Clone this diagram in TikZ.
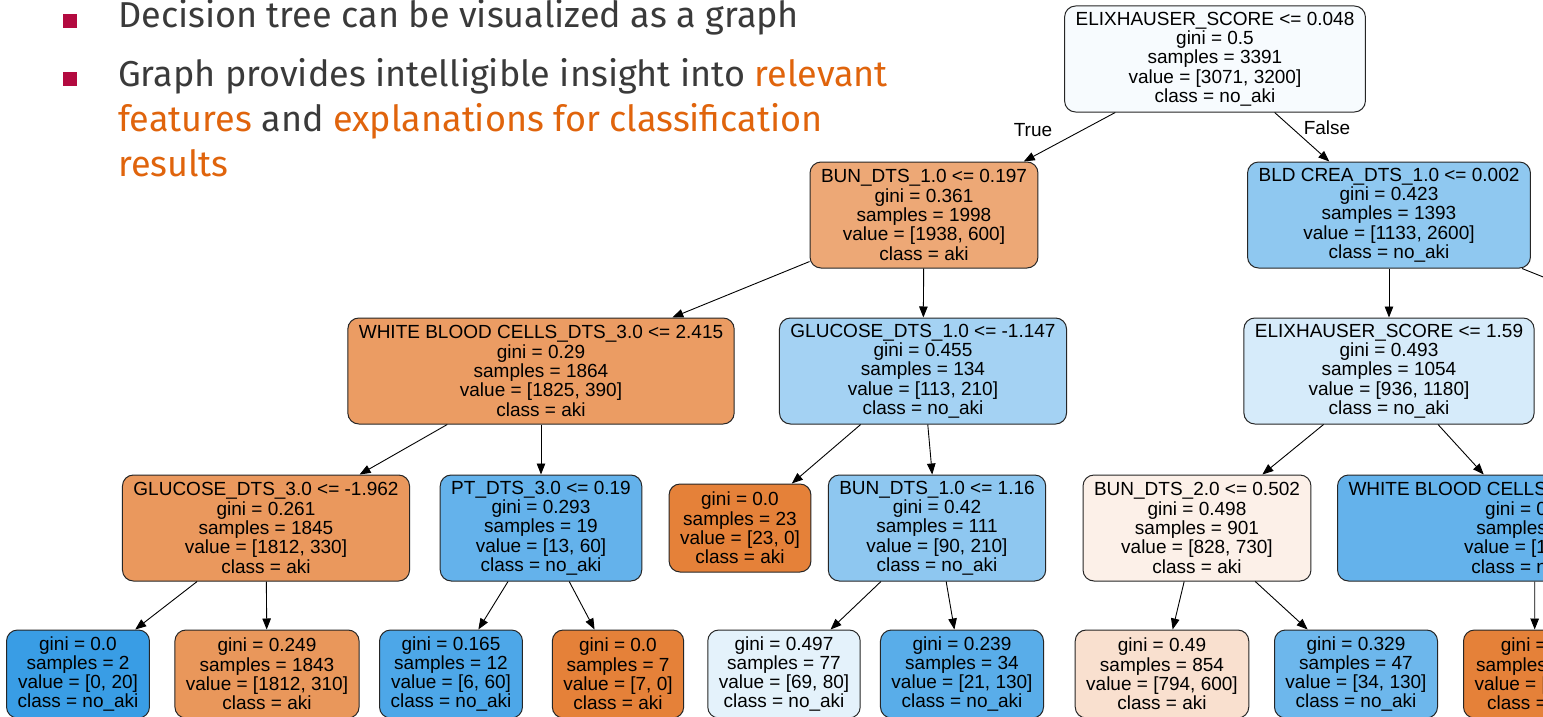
\documentclass[tikz,border=0pt]{standalone}
\usepackage{fontspec}
\usepackage{tikz}
\usetikzlibrary{arrows.meta,calc}
\newfontfamily\treefont{Liberation Sans}
\newfontfamily\slidefont{Fira Sans}
\definecolor{SlideText}{HTML}{3A3A3A}
\definecolor{Accent}{HTML}{E0640C}
\definecolor{BulletRed}{HTML}{B30A40}
% node fills (aki = orange, no_aki = blue)
\definecolor{cRoot}{HTML}{F7FBFE}
\definecolor{cBunA}{HTML}{EDA876}
\definecolor{cBld}{HTML}{8FC8F0}
\definecolor{cWbcA}{HTML}{EB9C63}
\definecolor{cGluA}{HTML}{A4D2F3}
\definecolor{cElix}{HTML}{D6EBFA}
\definecolor{cGluB}{HTML}{EA985D}
\definecolor{cPt}{HTML}{64B2EB}
\definecolor{cAki}{HTML}{E58139}
\definecolor{cNoAki}{HTML}{399DE5}
\definecolor{cBunB}{HTML}{8EC7F0}
\definecolor{cBunC}{HTML}{FCF0E8}
\definecolor{cLfB}{HTML}{E9975B}
\definecolor{cLfC}{HTML}{4DA7E8}
\definecolor{cLfE}{HTML}{E4F2FB}
\definecolor{cLfF}{HTML}{59ADE9}
\definecolor{cLfG}{HTML}{F9E0CF}
\definecolor{cLfH}{HTML}{6DB7EC}

\begin{document}
\begin{tikzpicture}[
    x=1pt,y=-1pt,
    tnode/.style={draw=black!85,line width=1pt,rounded corners=11pt,align=center,
                  font=\treefont\fontsize{19}{19.3}\selectfont,
                  inner xsep=11pt,inner ysep=0pt,minimum height=106pt},
    leaf/.style={tnode,minimum height=88pt},
    edge/.style={-{Triangle[length=11pt,width=8.5pt]},line width=0.9pt,black},
    lbl/.style={font=\treefont\fontsize{19}{19.3}\selectfont,inner sep=0pt},
    slide/.style={font=\slidefont\fontsize{36}{44}\selectfont,text=SlideText,
                  inner sep=0pt,anchor=base west},
    bul/.style={fill=BulletRed,minimum size=14pt,inner sep=0pt}
  ]
  \useasboundingbox (0,0) rectangle (1543,717);
  \fill[white] (0,0) rectangle (1543,717);
  \clip (0,0) rectangle (1543,717);

  % slide text
  \node[bul] (bA) at (70,21) {};
  \node[bul] (bB) at (70,79) {};
  \node[slide] (lineA) at (118,28) {Decision tree can be visualized as a graph};
  \node[slide] (lineB) at (118,86) {Graph provides intelligible insight into \textcolor{Accent}{relevant}};
  \node[slide] (lineC) at (118,131) {\textcolor{Accent}{features} and \textcolor{Accent}{explanations for classification}};
  \node[slide] (lineD) at (118,176) {\textcolor{Accent}{results}};

  % tree
  \node[tnode,fill=cRoot] (root) at (1215,59) {ELIXHAUSER\_SCORE <= 0.048\\gini = 0.5\\samples = 3391\\value = [3071, 3200]\\class = no\_aki};
  \node[tnode,fill=cBunA] (bunA) at (924,215) {BUN\_DTS\_1.0 <= 0.197\\gini = 0.361\\samples = 1998\\value = [1938, 600]\\class = aki};
  \node[tnode,fill=cBld] (bld) at (1389,215) {BLD CREA\_DTS\_1.0 <= 0.002\\gini = 0.423\\samples = 1393\\value = [1133, 2600]\\class = no\_aki};
  \node[tnode,fill=cWbcA] (wbcA) at (541,371) {WHITE BLOOD CELLS\_DTS\_3.0 <= 2.415\\gini = 0.29\\samples = 1864\\value = [1825, 390]\\class = aki};
  \node[tnode,fill=cGluA] (gluA) at (923,371) {GLUCOSE\_DTS\_1.0 <= -1.147\\gini = 0.455\\samples = 134\\value = [113, 210]\\class = no\_aki};
  \node[tnode,fill=cElix] (elix) at (1389,371) {ELIXHAUSER\_SCORE <= 1.59\\gini = 0.493\\samples = 1054\\value = [936, 1180]\\class = no\_aki};

  \node[tnode,fill=cGluB] (gluB) at (266,528) {GLUCOSE\_DTS\_3.0 <= -1.962\\gini = 0.261\\samples = 1845\\value = [1812, 330]\\class = aki};
  \node[tnode,fill=cPt] (pt) at (541,528) {PT\_DTS\_3.0 <= 0.19\\gini = 0.293\\samples = 19\\value = [13, 60]\\class = no\_aki};
  \node[leaf,fill=cAki] (pure) at (740,528) {gini = 0.0\\samples = 23\\value = [23, 0]\\class = aki};
  \node[tnode,fill=cBunB] (bunB) at (937,528) {BUN\_DTS\_1.0 <= 1.16\\gini = 0.42\\samples = 111\\value = [90, 210]\\class = no\_aki};
  \node[tnode,fill=cBunC] (bunC) at (1197,528) {BUN\_DTS\_2.0 <= 0.502\\gini = 0.498\\samples = 901\\value = [828, 730]\\class = aki};
  \node[tnode,fill=cPt,anchor=west,align=right] (wbcB) at (1337,528) {WHITE BLOOD CELLS\\gini = 0\\samples\\value = [1\\class = n};

  \node[leaf,fill=cNoAki] (lfA) at (78,674) {gini = 0.0\\samples = 2\\value = [0, 20]\\class = no\_aki};
  \node[leaf,fill=cLfB] (lfB) at (267,674) {gini = 0.249\\samples = 1843\\value = [1812, 310]\\class = aki};
  \node[leaf,fill=cLfC] (lfC) at (451,674) {gini = 0.165\\samples = 12\\value = [6, 60]\\class = no\_aki};
  \node[leaf,fill=cAki] (lfD) at (618,674) {gini = 0.0\\samples = 7\\value = [7, 0]\\class = aki};
  \node[leaf,fill=cLfE] (lfE) at (784,674) {gini = 0.497\\samples = 77\\value = [69, 80]\\class = no\_aki};
  \node[leaf,fill=cLfF] (lfF) at (962,674) {gini = 0.239\\samples = 34\\value = [21, 130]\\class = no\_aki};
  \node[leaf,fill=cLfG] (lfG) at (1162,674) {gini = 0.49\\samples = 854\\value = [794, 600]\\class = aki};
  \node[leaf,fill=cLfH] (lfH) at (1356,674) {gini = 0.329\\samples = 47\\value = [34, 130]\\class = no\_aki};
  \node[leaf,fill=cAki,anchor=west,align=right] (lfI) at (1463,674) {gini =\\samples\\value = [\\class =};

  \coordinate (offR) at (1700,340);

  \draw[edge] (root) -- (bunA);
  \draw[edge] (root) -- (bld);
  \node[lbl] (tTrue) at (1033,130) {True};
  \node[lbl] (tFalse) at (1327,128) {False};
  \draw[edge] (bunA) -- (wbcA);
  \draw[edge] (bunA) -- (gluA);
  \draw[edge] (bld) -- (elix);
  \draw[edge] (bld) -- (offR);
  \draw[edge] (wbcA) -- (gluB);
  \draw[edge] (wbcA) -- (pt);
  \draw[edge] (gluA) -- (pure);
  \draw[edge] (gluA) -- (bunB);
  \draw[edge] (elix) -- (bunC);
  \draw[edge] ([xshift=49pt]elix.south) -- ([xshift=36pt]wbcB.north);
  \draw[edge] (gluB) -- (lfA);
  \draw[edge] (gluB) -- (lfB);
  \draw[edge] (pt) -- (lfC);
  \draw[edge] (pt) -- (lfD);
  \draw[edge] (bunB) -- (lfE);
  \draw[edge] (bunB) -- (lfF);
  \draw[edge] (bunC) -- (lfG);
  \draw[edge] (bunC) -- (lfH);
  \draw[edge] ([xshift=87pt]wbcB.south) -- ([xshift=24pt]lfI.north);
\end{tikzpicture}
\end{document}
